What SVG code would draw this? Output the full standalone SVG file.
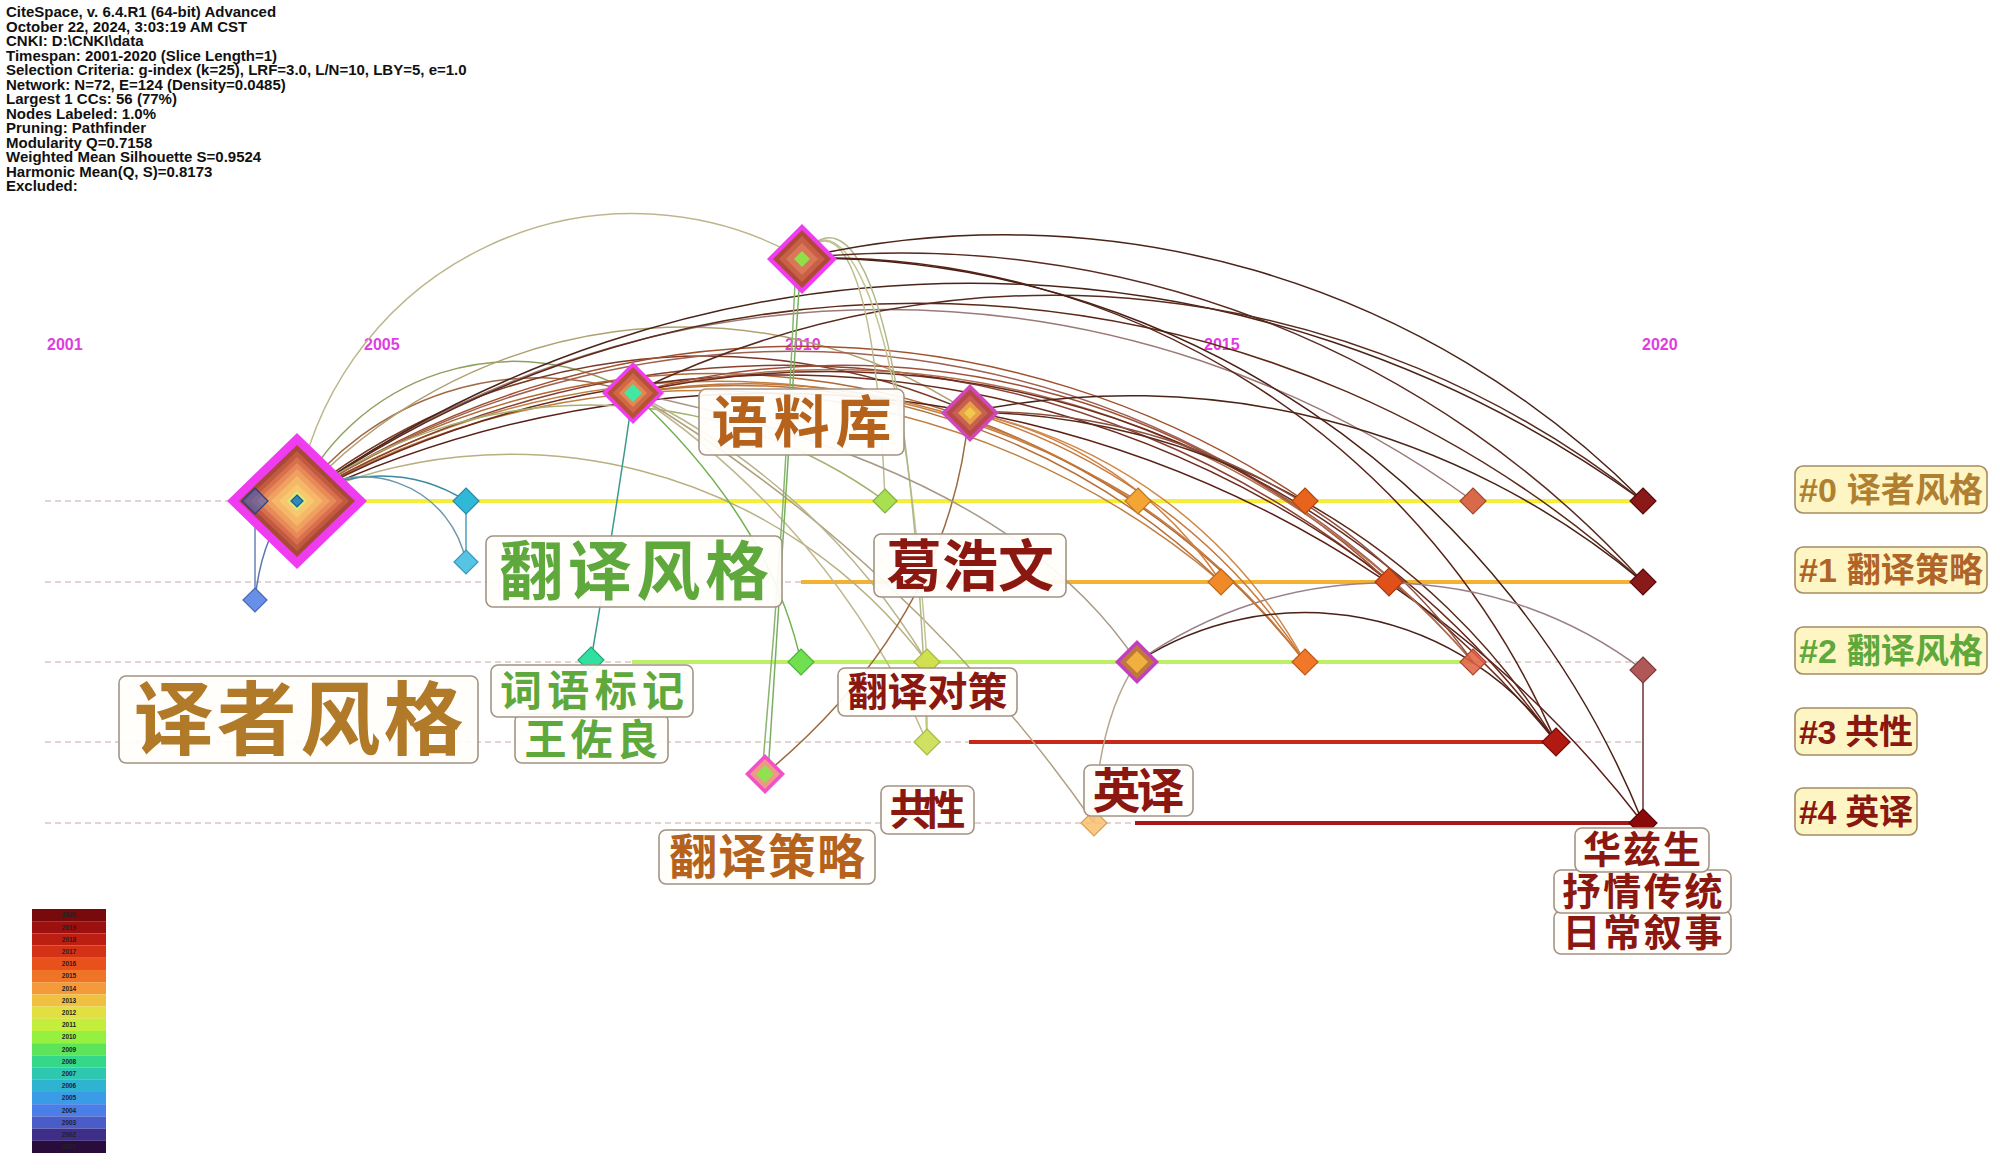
<svg xmlns="http://www.w3.org/2000/svg" xmlns:xlink="http://www.w3.org/1999/xlink" width="2000" height="1169" viewBox="0 0 2000 1169">
<defs>
<path id="dm" d="M0,-1L1,0L0,1L-1,0Z" vector-effect="non-scaling-stroke"/>
<style>
.hdr{font-family:"Liberation Sans",Arial,sans-serif;font-weight:bold;font-size:15px;fill:#111}
.yr{font-family:"Liberation Sans",Arial,sans-serif;font-weight:bold;font-size:16px;fill:#e03ce0}
.dash{stroke:#d9c6c2;stroke-width:1.6;stroke-dasharray:6 4;fill:none}
.tl{stroke-width:4;fill:none}
.cn{fill:none;stroke-width:1.5}
.nd{stroke-width:1.2}
.lb{fill:#fffefb;fill-opacity:0.93;stroke:#a39385;stroke-width:1.6}
.lt{font-family:"Noto Sans CJK SC","Noto Sans CJK JP",sans-serif;font-weight:bold;text-anchor:middle}
.cl{fill:#fdf6c4;stroke:#a58c62;stroke-width:1.6}
.ct{font-family:"Liberation Sans","Noto Sans CJK SC",sans-serif;font-weight:bold;font-size:34px}
.lg{font-family:"Liberation Sans",Arial,sans-serif;font-weight:bold;font-size:6.5px;fill:#222;text-anchor:middle}
</style>
</defs>
<rect width="2000" height="1169" fill="#ffffff"/>

<g id="header">
<text class="hdr" x="6" y="17">CiteSpace, v. 6.4.R1 (64-bit) Advanced</text>
<text class="hdr" x="6" y="31.5">October 22, 2024, 3:03:19 AM CST</text>
<text class="hdr" x="6" y="46">CNKI: D:\CNKI\data</text>
<text class="hdr" x="6" y="60.5">Timespan: 2001-2020 (Slice Length=1)</text>
<text class="hdr" x="6" y="75">Selection Criteria: g-index (k=25), LRF=3.0, L/N=10, LBY=5, e=1.0</text>
<text class="hdr" x="6" y="89.5">Network: N=72, E=124 (Density=0.0485)</text>
<text class="hdr" x="6" y="104">Largest 1 CCs: 56 (77%)</text>
<text class="hdr" x="6" y="118.5">Nodes Labeled: 1.0%</text>
<text class="hdr" x="6" y="133">Pruning: Pathfinder</text>
<text class="hdr" x="6" y="147.5">Modularity Q=0.7158</text>
<text class="hdr" x="6" y="162">Weighted Mean Silhouette S=0.9524</text>
<text class="hdr" x="6" y="176.5">Harmonic Mean(Q, S)=0.8173</text>
<text class="hdr" x="6" y="191">Excluded:</text>
</g>

<g id="years">
<text class="yr" x="47" y="350">2001</text>
<text class="yr" x="364" y="350">2005</text>
<text class="yr" x="785" y="350">2010</text>
<text class="yr" x="1204" y="350">2015</text>
<text class="yr" x="1642" y="350">2020</text>
</g>

<g id="timelines">
<line class="dash" x1="45" y1="501" x2="1645" y2="501"/>
<line class="dash" x1="45" y1="582" x2="1645" y2="582"/>
<line class="dash" x1="45" y1="662" x2="1645" y2="662"/>
<line class="dash" x1="45" y1="742" x2="1645" y2="742"/>
<line class="dash" x1="45" y1="823" x2="1645" y2="823"/>
<line class="tl" x1="296" y1="501" x2="1643" y2="501" stroke="#f5ef3a"/>
<line class="tl" x1="801" y1="582" x2="1643" y2="582" stroke="#f5b232"/>
<line class="tl" x1="632" y1="662" x2="1473" y2="662" stroke="#bdf064"/>
<line class="tl" x1="969" y1="742" x2="1556" y2="742" stroke="#c82818"/>
<line class="tl" x1="1135" y1="823" x2="1643" y2="823" stroke="#a81818"/>
</g>

<g id="connectors">
<path class="cn" d="M296,501 A341,341 0 0 1 801,258" stroke="#bdb68c"/>
<path class="cn" d="M296,501 A300,300 0 0 1 633,393" stroke="#a06a48"/>
<path class="cn" d="M296,501 A240,240 0 0 1 633,393" stroke="#8ea060"/>
<path class="cn" d="M296,501 A520,520 0 0 1 969,412" stroke="#b0a070"/>
<path class="cn" d="M296,501 A650,650 0 0 1 969,412" stroke="#7a3a28"/>
<path class="cn" d="M296,501 A800,800 0 0 1 1138,501" stroke="#c08040"/>
<path class="cn" d="M296,501 A900,900 0 0 1 1305,501" stroke="#a0502c"/>
<path class="cn" d="M296,501 A1000,1000 0 0 1 1473,501" stroke="#9a7a78"/>
<path class="cn" d="M296,501 A1150,1150 0 0 1 1643,501" stroke="#4a2418"/>
<path class="cn" d="M296,501 A1080,1080 0 0 1 1643,582" stroke="#5c2818"/>
<path class="cn" d="M296,501 A800,800 0 0 1 1221,582" stroke="#c08040"/>
<path class="cn" d="M296,501 A950,950 0 0 1 1389,582" stroke="#8a4030"/>
<path class="cn" d="M296,501 A750,750 0 0 1 1305,662" stroke="#b06a38"/>
<path class="cn" d="M296,501 A900,900 0 0 1 1473,662" stroke="#a06050"/>
<path class="cn" d="M296,501 A1000,1000 0 0 1 1556,742" stroke="#6a2a1c"/>
<path class="cn" d="M296,501 A1100,1100 0 0 1 1643,823" stroke="#5a2018"/>
<path class="cn" d="M296,501 A500,500 0 0 1 885,501" stroke="#a8b070"/>
<path class="cn" d="M296,501 A520,520 0 0 1 927,662" stroke="#b8b080"/>
<path class="cn" d="M296,501 A157,157 0 0 1 466,501" stroke="#3a8aa0"/>
<path class="cn" d="M296,501 A105,105 0 0 1 466,562" stroke="#6a98a8"/>
<path class="cn" d="M255,600 Q262,530 300,492" stroke="#5a78b0"/>
<path class="cn" d="M255,501 L255,600" stroke="#6a80b8"/>
<path class="cn" d="M466,501 L466,562" stroke="#4aa0c0"/>
<path class="cn" d="M633,393 Q615,520 591,660" stroke="#3a9a8a" stroke-width="1.8"/>
<path class="cn" d="M633,393 A1500,1500 0 0 1 1094,823" stroke="#b0a080"/>
<path class="cn" d="M633,393 A700,700 0 0 1 927,662" stroke="#b8b48a"/>
<path class="cn" d="M633,393 A800,800 0 0 1 927,742" stroke="#c0b890"/>
<path class="cn" d="M633,393 A950,950 0 0 1 1643,501" stroke="#5a2a1e"/>
<path class="cn" d="M633,393 A800,800 0 0 1 1389,582" stroke="#a05038"/>
<path class="cn" d="M633,393 A700,700 0 0 1 1305,662" stroke="#c87838"/>
<path class="cn" d="M633,393 A850,850 0 0 1 1473,662" stroke="#b07050"/>
<path class="cn" d="M633,393 A700,700 0 0 1 1221,582" stroke="#b8703a"/>
<path class="cn" d="M633,393 A900,900 0 0 1 1556,742" stroke="#6a2a1c"/>
<path class="cn" d="M801,662 Q770,520 633,393" stroke="#70b050"/>
<path class="cn" d="M801,258 L768,774" stroke="#78b060"/>
<path class="cn" d="M796,262 Q785,520 762,774" stroke="#8ab470"/>
<path class="cn" d="M801,258 C830,205 900,250 927,662" stroke="#c4c494"/>
<path class="cn" d="M801,258 C845,195 910,260 927,742" stroke="#b0b888"/>
<path class="cn" d="M801,258 C830,215 875,240 885,501" stroke="#bcbc90"/>
<path class="cn" d="M801,258 A900,900 0 0 1 1643,501" stroke="#4a2418"/>
<path class="cn" d="M801,258 A1000,1000 0 0 1 1643,582" stroke="#5a2a20"/>
<path class="cn" d="M801,258 A800,800 0 0 1 1556,742" stroke="#5a2418"/>
<path class="cn" d="M801,258 A900,900 0 0 1 1643,823" stroke="#4a2015"/>
<path class="cn" d="M969,412 A400,400 0 0 1 1221,582" stroke="#d08040"/>
<path class="cn" d="M969,412 A600,600 0 0 1 1305,662" stroke="#c87838"/>
<path class="cn" d="M969,412 A500,500 0 0 1 1305,662" stroke="#d08848"/>
<path class="cn" d="M969,412 A800,800 0 0 1 1643,582" stroke="#4a2418"/>
<path class="cn" d="M969,412 A700,700 0 0 1 1556,742" stroke="#5a2a1c"/>
<path class="cn" d="M969,412 A600,600 0 0 1 1473,662" stroke="#8a5040"/>
<path class="cn" d="M969,412 Q950,620 765,774" stroke="#9a6a40"/>
<path class="cn" d="M1137,662 A309,309 0 0 1 1556,742" stroke="#4a2018"/>
<path class="cn" d="M1137,662 A427,427 0 0 1 1643,670" stroke="#9a8088"/>
<path class="cn" d="M1137,662 Q1098,720 1094,823" stroke="#b8a890"/>
<path class="cn" d="M633,393 Q1010,470 1137,662" stroke="#a89888"/>
<path class="cn" d="M1643,670 L1643,823" stroke="#6a3030"/>
<path class="cn" d="M927,662 L927,742" stroke="#c0cc70"/>
</g>

<g id="node-yizhefengge">
<use href="#dm" transform="translate(297,501) scale(70,68)" fill="#f03cf0"/>
<use href="#dm" transform="translate(297,501) scale(58,56)" fill="#a84838"/>
<use href="#dm" transform="translate(297,501) scale(52,50)" fill="#c25a40"/>
<use href="#dm" transform="translate(297,501) scale(46,44)" fill="#d87050"/>
<use href="#dm" transform="translate(297,501) scale(40,38)" fill="#e88a58"/>
<use href="#dm" transform="translate(297,501) scale(33,32)" fill="#f0a060"/>
<use href="#dm" transform="translate(297,501) scale(26,25)" fill="#f5b868"/>
<use href="#dm" transform="translate(297,501) scale(18,17)" fill="#f8c870"/>
<use href="#dm" transform="translate(297,501) scale(10)" fill="#dde878"/>
<use href="#dm" class="nd" transform="translate(297,501) scale(6)" fill="#2f88c0" stroke="#1f5a88"/>
</g>
<g id="node-blue1"><use href="#dm" class="nd" transform="translate(255,501) scale(13)" fill="#4060c0" fill-opacity="0.6" stroke="#2a3c80"/></g>
<g id="node-blue2"><use href="#dm" class="nd" transform="translate(255,600) scale(12)" fill="#6890e8" stroke="#4a68b0"/></g>
<g id="node-cyan1"><use href="#dm" class="nd" transform="translate(466,501) scale(13)" fill="#30b8d8" stroke="#2a88a8"/></g>
<g id="node-cyan2"><use href="#dm" class="nd" transform="translate(466,562) scale(12)" fill="#58c4e4" stroke="#3a98b8"/></g>
<g id="node-T1">
<use href="#dm" transform="translate(802,259) scale(35)" fill="#f03cf0"/>
<use href="#dm" transform="translate(802,259) scale(29)" fill="#b04838"/>
<use href="#dm" transform="translate(802,259) scale(23)" fill="#c86048"/>
<use href="#dm" transform="translate(802,259) scale(16)" fill="#d87858"/>
<use href="#dm" transform="translate(802,259) scale(8)" fill="#90e048"/>
</g>
<g id="node-T2">
<use href="#dm" transform="translate(633,393) scale(31)" fill="#f03cf0"/>
<use href="#dm" transform="translate(633,393) scale(26)" fill="#b85038"/>
<use href="#dm" transform="translate(633,393) scale(20)" fill="#d06848"/>
<use href="#dm" transform="translate(633,393) scale(14)" fill="#e08858"/>
<use href="#dm" transform="translate(633,393) scale(9)" fill="#40e8a0"/>
</g>
<g id="node-T3">
<use href="#dm" transform="translate(970,413) scale(29)" fill="#d048b8"/>
<use href="#dm" transform="translate(970,413) scale(24)" fill="#b8484a"/>
<use href="#dm" transform="translate(970,413) scale(18)" fill="#c86050"/>
<use href="#dm" transform="translate(970,413) scale(12)" fill="#e8a048"/>
<use href="#dm" transform="translate(970,413) scale(6)" fill="#f0c850"/>
</g>
<g id="node-g0"><use href="#dm" class="nd" transform="translate(885,501) scale(12)" fill="#a8e050" stroke="#80b040"/></g>
<g id="node-o0a"><use href="#dm" class="nd" transform="translate(1138,501) scale(13)" fill="#f5a535" stroke="#c07820"/></g>
<g id="node-o0b"><use href="#dm" class="nd" transform="translate(1305,501) scale(13)" fill="#e8641c" stroke="#b04810"/></g>
<g id="node-o0c"><use href="#dm" class="nd" transform="translate(1473,501) scale(13)" fill="#d86a4a" stroke="#a04a30"/></g>
<g id="node-r0"><use href="#dm" class="nd" transform="translate(1643,501) scale(13)" fill="#8a1a1a" stroke="#5a0a0a"/></g>
<g id="node-o1a"><use href="#dm" class="nd" transform="translate(1221,582) scale(13)" fill="#f08a28" stroke="#c06818"/></g>
<g id="node-o1b"><use href="#dm" class="nd" transform="translate(1389,582) scale(14)" fill="#e0501a" stroke="#a83810"/></g>
<g id="node-r1"><use href="#dm" class="nd" transform="translate(1643,582) scale(13)" fill="#8a1a1a" stroke="#5a0a0a"/></g>
<g id="node-tq"><use href="#dm" class="nd" transform="translate(591,660) scale(13)" fill="#30e0a0" stroke="#20a878"/></g>
<g id="node-g2"><use href="#dm" class="nd" transform="translate(801,662) scale(13)" fill="#70e050" stroke="#50b038"/></g>
<g id="node-yg2"><use href="#dm" class="nd" transform="translate(927,662) scale(13)" fill="#d0e050" stroke="#a8b840"/></g>
<g id="node-m2">
<use href="#dm" transform="translate(1137,662) scale(22)" fill="#c040c0"/>
<use href="#dm" transform="translate(1137,662) scale(17)" fill="#c07838"/>
<use href="#dm" transform="translate(1137,662) scale(11)" fill="#f0b040"/>
</g>
<g id="node-o2"><use href="#dm" class="nd" transform="translate(1305,662) scale(13)" fill="#f07828" stroke="#c05818"/></g>
<g id="node-s2"><use href="#dm" class="nd" transform="translate(1473,662) scale(13)" fill="#e06040" fill-opacity="0.85" stroke="#a84830"/></g>
<g id="node-mv2"><use href="#dm" class="nd" transform="translate(1643,670) scale(13)" fill="#b05858" stroke="#803838"/></g>
<g id="node-p3">
<use href="#dm" transform="translate(765,774) scale(20)" fill="#f050c8"/>
<use href="#dm" transform="translate(765,774) scale(15)" fill="#f09888"/>
<use href="#dm" transform="translate(765,774) scale(9)" fill="#90e050"/>
</g>
<g id="node-yg3"><use href="#dm" class="nd" transform="translate(927,742) scale(13)" fill="#d0e060" stroke="#a8b840"/></g>
<g id="node-r3"><use href="#dm" class="nd" transform="translate(1556,742) scale(14)" fill="#b01a10" stroke="#780a08"/></g>
<g id="node-lo4"><use href="#dm" class="nd" transform="translate(1094,823) scale(13)" fill="#f8c070" fill-opacity="0.85" stroke="#d8a050"/></g>
<g id="node-r4"><use href="#dm" class="nd" transform="translate(1643,823) scale(14)" fill="#8a0a0a" stroke="#5a0505"/></g>

<g id="labels">
<g id="label-yuliaoku"><rect class="lb" x="699" y="389" width="205" height="66" rx="7"/><text class="lt" x="801.5" y="442" font-size="56" fill="#b5621c" textLength="180" lengthAdjust="spacing">语料库</text></g>
<g id="label-fanyifengge"><rect class="lb" x="486" y="536" width="296" height="71" rx="7"/><text class="lt" x="634" y="594" font-size="64" fill="#5ea83c" textLength="270" lengthAdjust="spacing">翻译风格</text></g>
<g id="label-gehaowen"><rect class="lb" x="874" y="534" width="192" height="63" rx="7"/><text class="lt" x="970" y="586" font-size="56" fill="#8a1810" textLength="168" lengthAdjust="spacing">葛浩文</text></g>
<g id="label-yizhefengge"><rect class="lb" x="119" y="676" width="359" height="87" rx="7"/><text class="lt" x="298.5" y="748" font-size="80" fill="#b07a28" textLength="330" lengthAdjust="spacing">译者风格</text></g>
<g id="label-wangzuoliang"><rect class="lb" x="515" y="714" width="153" height="49" rx="7"/><text class="lt" x="591.5" y="755" font-size="42" fill="#5ea83c" textLength="134" lengthAdjust="spacing">王佐良</text></g>
<g id="label-ciyubiaoji"><rect class="lb" x="491" y="665" width="202" height="52" rx="7"/><text class="lt" x="592" y="706" font-size="42" fill="#5ea83c" textLength="184" lengthAdjust="spacing">词语标记</text></g>
<g id="label-fanyiduice"><rect class="lb" x="838" y="668" width="179" height="48" rx="7"/><text class="lt" x="927.5" y="706" font-size="40" fill="#8a1810" textLength="160" lengthAdjust="spacing">翻译对策</text></g>
<g id="label-gongxing"><rect class="lb" x="881" y="786" width="93" height="48" rx="7"/><text class="lt" x="927.5" y="825" font-size="42" fill="#8a1810" textLength="76" lengthAdjust="spacing">共性</text></g>
<g id="label-fanyicelue"><rect class="lb" x="659" y="830" width="216" height="54" rx="7"/><text class="lt" x="767" y="874" font-size="48" fill="#b5621c" textLength="196" lengthAdjust="spacing">翻译策略</text></g>
<g id="label-yingyi"><rect class="lb" x="1084" y="765" width="109" height="51" rx="7"/><text class="lt" x="1138.5" y="808" font-size="48" fill="#8a1810" textLength="92" lengthAdjust="spacing">英译</text></g>
<g id="label-richangxushi"><rect class="lb" x="1554" y="911" width="177" height="43" rx="7"/><text class="lt" x="1642.5" y="946" font-size="38" fill="#8a1810" textLength="160" lengthAdjust="spacing">日常叙事</text></g>
<g id="label-shuqingchuantong"><rect class="lb" x="1554" y="870" width="177" height="43" rx="7"/><text class="lt" x="1642.5" y="905" font-size="38" fill="#8a1810" textLength="160" lengthAdjust="spacing">抒情传统</text></g>
<g id="label-huazisheng"><rect class="lb" x="1575" y="828" width="134" height="44" rx="7"/><text class="lt" x="1642" y="863" font-size="38" fill="#8a1810" textLength="118" lengthAdjust="spacing">华兹生</text></g>
</g>

<g id="clusters">
<g id="cluster-0"><rect class="cl" x="1795" y="466" width="192" height="47" rx="8"/><text class="ct" x="1799" y="502" fill="#b08030" textLength="184" lengthAdjust="spacing">#0 译者风格</text></g>
<g id="cluster-1"><rect class="cl" x="1795" y="547" width="192" height="46" rx="8"/><text class="ct" x="1799" y="582" fill="#b06428" textLength="184" lengthAdjust="spacing">#1 翻译策略</text></g>
<g id="cluster-2"><rect class="cl" x="1795" y="627" width="192" height="47" rx="8"/><text class="ct" x="1799" y="663" fill="#5ea83c" textLength="184" lengthAdjust="spacing">#2 翻译风格</text></g>
<g id="cluster-3"><rect class="cl" x="1795" y="708" width="122" height="47" rx="8"/><text class="ct" x="1799" y="744" fill="#8a1810" textLength="114" lengthAdjust="spacing">#3 共性</text></g>
<g id="cluster-4"><rect class="cl" x="1795" y="788" width="122" height="47" rx="8"/><text class="ct" x="1799" y="824" fill="#8a1810" textLength="114" lengthAdjust="spacing">#4 英译</text></g>
</g>

<g id="legend">
<rect x="32" y="909" width="74" height="12.2" fill="#780a0c"/><text class="lg" x="69" y="917.4">2020</text>
<rect x="32" y="921.2" width="74" height="12.2" fill="#9c1010"/><text class="lg" x="69" y="929.6">2019</text>
<rect x="32" y="933.4" width="74" height="12.2" fill="#bc1e12"/><text class="lg" x="69" y="941.8">2018</text>
<rect x="32" y="945.6" width="74" height="12.2" fill="#d43216"/><text class="lg" x="69" y="954">2017</text>
<rect x="32" y="957.8" width="74" height="12.2" fill="#e8501c"/><text class="lg" x="69" y="966.2">2016</text>
<rect x="32" y="970" width="74" height="12.2" fill="#f07426"/><text class="lg" x="69" y="978.4">2015</text>
<rect x="32" y="982.2" width="74" height="12.2" fill="#f59a3a"/><text class="lg" x="69" y="990.6">2014</text>
<rect x="32" y="994.4" width="74" height="12.2" fill="#f0c040"/><text class="lg" x="69" y="1002.8">2013</text>
<rect x="32" y="1006.6" width="74" height="12.2" fill="#e2e040"/><text class="lg" x="69" y="1015">2012</text>
<rect x="32" y="1018.8" width="74" height="12.2" fill="#c4ee3c"/><text class="lg" x="69" y="1027.2">2011</text>
<rect x="32" y="1031" width="74" height="12.2" fill="#96f040"/><text class="lg" x="69" y="1039.4">2010</text>
<rect x="32" y="1043.2" width="74" height="12.2" fill="#5ee45a"/><text class="lg" x="69" y="1051.6">2009</text>
<rect x="32" y="1055.4" width="74" height="12.2" fill="#34d888"/><text class="lg" x="69" y="1063.8">2008</text>
<rect x="32" y="1067.6" width="74" height="12.2" fill="#2ec8b0"/><text class="lg" x="69" y="1076">2007</text>
<rect x="32" y="1079.8" width="74" height="12.2" fill="#2eb4d0"/><text class="lg" x="69" y="1088.2">2006</text>
<rect x="32" y="1092" width="74" height="12.2" fill="#3a9ce6"/><text class="lg" x="69" y="1100.4">2005</text>
<rect x="32" y="1104.2" width="74" height="12.2" fill="#4a7ee8"/><text class="lg" x="69" y="1112.6">2004</text>
<rect x="32" y="1116.4" width="74" height="12.2" fill="#4a5cc8"/><text class="lg" x="69" y="1124.8">2003</text>
<rect x="32" y="1128.6" width="74" height="12.2" fill="#3e2e88"/><text class="lg" x="69" y="1137">2002</text>
<rect x="32" y="1140.8" width="74" height="12.2" fill="#2a0c3c"/><text class="lg" x="69" y="1149.2">2001</text>
</g>
</svg>
